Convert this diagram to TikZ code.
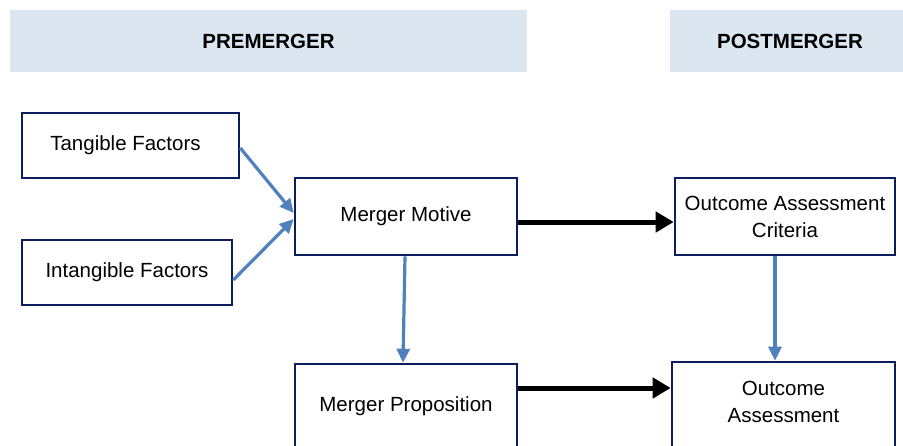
\documentclass[tikz,border=0pt]{standalone}
\usepackage{fontspec}
\setmainfont{Liberation Sans}
\usetikzlibrary{arrows.meta}
\definecolor{navy}{HTML}{0B1F5C}
\definecolor{hdr}{HTML}{DCE6F1}
\definecolor{arrblue}{HTML}{4F81BD}
\begin{document}
\begin{tikzpicture}[x=1pt,y=-1pt,
  box/.style={draw=navy,line width=2.6pt,fill=white,inner sep=0pt,align=center,
    font=\fontsize{20.5}{27}\selectfont},
  boxtext/.style={font=\fontsize{20.5}{27}\selectfont,align=center},
  hdrbox/.style={fill=hdr,inner sep=0pt,font=\bfseries\fontsize{20.5}{24}\selectfont},
  blue/.style={draw=arrblue,line width=3.2pt,-{Triangle[length=14pt,width=13pt]}},
  thick arrow/.style={draw=black,line width=5pt,-{Triangle[length=18pt,width=20pt]}}]
\clip (0,0) rectangle (903,445);
\fill[white] (0,0) rectangle (903,445);
\node[hdrbox,minimum width=517pt,minimum height=62pt] (pre) at (268.5,41) {PREMERGER};
\node[hdrbox,minimum width=240pt,minimum height=62pt] (post) at (790,41) {POSTMERGER};
\node[box,minimum width=217pt,minimum height=65pt,
  label={[boxtext,xshift=-5pt]center:Tangible Factors}] (tang) at (130.5,145.5) {};
\node[box,minimum width=210pt,minimum height=65pt] (intang) at (127,272.5) {Intangible Factors};
\node[box,minimum width=222pt,minimum height=77pt] (motive) at (406,216.5) {Merger Motive};
\node[box,minimum width=222pt,minimum height=84pt] (prop) at (406,406) {Merger Proposition};
\node[box,minimum width=220pt,minimum height=77pt] (crit) at (785,216.5) {Outcome Assessment\\Criteria};
\node[box,minimum width=223pt,minimum height=88pt,
  label={[boxtext,yshift=4pt]center:Outcome\\Assessment}] (outc) at (783.5,406) {};
\draw[blue] (tang.east |- 0,148) -- (motive.west |- 0,213);
\draw[blue] (intang.east |- 0,280) -- (motive.west |- 0,219);
\draw[blue] (motive.south -| 405,0) -- (prop.north -| 403,0);
\draw[blue] (crit.south -| 775,0) -- (outc.north -| 775,0);
\draw[thick arrow] (motive.east |- 0,222) -- (crit.west |- 0,222);
\draw[thick arrow] (prop.east |- 0,388) -- (outc.west |- 0,388);
\end{tikzpicture}
\end{document}
